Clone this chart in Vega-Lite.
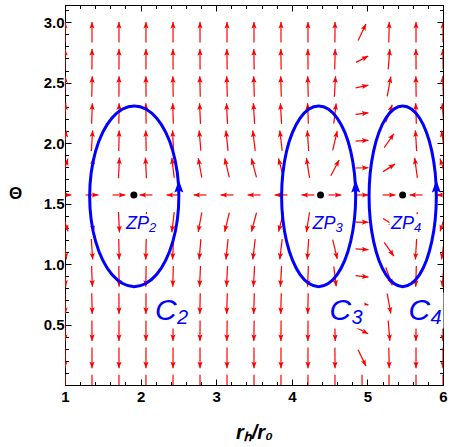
{
  "$schema": "https://vega.github.io/schema/vega-lite/v6.json",
  "width": 378,
  "height": 380,
  "autosize": {"type": "none"},
  "padding": {"left": 65, "top": 5, "right": 7, "bottom": 62},
  "background": "white",
  "config": {
    "view": {"stroke": "black", "strokeWidth": 1},
    "axis": {"grid": false, "domainColor": "black", "tickColor": "black", "labelColor": "black", "titleColor": "black", "tickWidth": 1, "domainWidth": 1}
  },
  "datasets": {
    "arrows": [
      {"x0":1,"y0":0.085,"x1":1,"y1":-0.085,"a":180},
      {"x0":1,"y0":0.309,"x1":1,"y1":0.139,"a":180},
      {"x0":0.998,"y0":0.534,"x1":1.002,"y1":0.364,"a":179.1},
      {"x0":0.995,"y0":0.758,"x1":1.005,"y1":0.588,"a":177.9},
      {"x0":0.99,"y0":0.983,"x1":1.01,"y1":0.813,"a":175.8},
      {"x0":0.981,"y0":1.205,"x1":1.019,"y1":1.039,"a":172},
      {"x0":0.961,"y0":1.422,"x1":1.039,"y1":1.27,"a":162.3},
      {"x0":0.915,"y0":1.571,"x1":1.085,"y1":1.571,"a":90},
      {"x0":0.961,"y0":1.719,"x1":1.039,"y1":1.871,"a":17.7},
      {"x0":0.981,"y0":1.937,"x1":1.019,"y1":2.103,"a":8},
      {"x0":0.99,"y0":2.159,"x1":1.01,"y1":2.329,"a":4.2},
      {"x0":0.995,"y0":2.383,"x1":1.005,"y1":2.553,"a":2.1},
      {"x0":0.998,"y0":2.608,"x1":1.002,"y1":2.778,"a":0.9},
      {"x0":1,"y0":2.832,"x1":1,"y1":3.002,"a":0},

      {"x0":1.357,"y0":0.085,"x1":1.357,"y1":-0.085,"a":180},
      {"x0":1.357,"y0":0.309,"x1":1.357,"y1":0.139,"a":180},
      {"x0":1.356,"y0":0.534,"x1":1.358,"y1":0.364,"a":179.6},
      {"x0":1.354,"y0":0.758,"x1":1.36,"y1":0.588,"a":178.9},
      {"x0":1.352,"y0":0.983,"x1":1.362,"y1":0.813,"a":177.9},
      {"x0":1.348,"y0":1.207,"x1":1.366,"y1":1.037,"a":176},
      {"x0":1.336,"y0":1.428,"x1":1.378,"y1":1.264,"a":170.9},
      {"x0":1.272,"y0":1.571,"x1":1.442,"y1":1.571,"a":90},
      {"x0":1.336,"y0":1.713,"x1":1.378,"y1":1.877,"a":9.1},
      {"x0":1.348,"y0":1.935,"x1":1.366,"y1":2.105,"a":4},
      {"x0":1.352,"y0":2.159,"x1":1.362,"y1":2.329,"a":2.1},
      {"x0":1.354,"y0":2.383,"x1":1.36,"y1":2.553,"a":1.1},
      {"x0":1.356,"y0":2.608,"x1":1.358,"y1":2.778,"a":0.4},
      {"x0":1.357,"y0":2.832,"x1":1.357,"y1":3.002,"a":0},

      {"x0":1.714,"y0":0.085,"x1":1.714,"y1":-0.085,"a":180},
      {"x0":1.714,"y0":0.309,"x1":1.714,"y1":0.139,"a":180},
      {"x0":1.714,"y0":0.534,"x1":1.714,"y1":0.364,"a":180},
      {"x0":1.713,"y0":0.758,"x1":1.715,"y1":0.588,"a":179.6},
      {"x0":1.712,"y0":0.983,"x1":1.716,"y1":0.813,"a":179.3},
      {"x0":1.711,"y0":1.207,"x1":1.717,"y1":1.037,"a":178.7},
      {"x0":1.707,"y0":1.431,"x1":1.721,"y1":1.261,"a":177},
      {"x0":1.629,"y0":1.571,"x1":1.799,"y1":1.571,"a":90},
      {"x0":1.707,"y0":1.71,"x1":1.721,"y1":1.88,"a":3},
      {"x0":1.711,"y0":1.935,"x1":1.717,"y1":2.105,"a":1.3},
      {"x0":1.712,"y0":2.159,"x1":1.716,"y1":2.329,"a":0.7},
      {"x0":1.713,"y0":2.383,"x1":1.715,"y1":2.553,"a":0.4},
      {"x0":1.714,"y0":2.608,"x1":1.714,"y1":2.778,"a":0},
      {"x0":1.714,"y0":2.832,"x1":1.714,"y1":3.002,"a":0},

      {"x0":2.071,"y0":0.085,"x1":2.071,"y1":-0.085,"a":180},
      {"x0":2.071,"y0":0.309,"x1":2.071,"y1":0.139,"a":180},
      {"x0":2.071,"y0":0.534,"x1":2.071,"y1":0.364,"a":180},
      {"x0":2.072,"y0":0.758,"x1":2.07,"y1":0.588,"a":180.4},
      {"x0":2.073,"y0":0.983,"x1":2.069,"y1":0.813,"a":180.7},
      {"x0":2.074,"y0":1.207,"x1":2.068,"y1":1.037,"a":181.3},
      {"x0":2.078,"y0":1.431,"x1":2.064,"y1":1.261,"a":183},
      {"x0":2.156,"y0":1.571,"x1":1.986,"y1":1.571,"a":-90},
      {"x0":2.078,"y0":1.71,"x1":2.064,"y1":1.88,"a":-3},
      {"x0":2.074,"y0":1.935,"x1":2.068,"y1":2.105,"a":-1.3},
      {"x0":2.073,"y0":2.159,"x1":2.069,"y1":2.329,"a":-0.7},
      {"x0":2.072,"y0":2.383,"x1":2.07,"y1":2.553,"a":-0.4},
      {"x0":2.071,"y0":2.608,"x1":2.071,"y1":2.778,"a":0},
      {"x0":2.071,"y0":2.832,"x1":2.071,"y1":3.002,"a":0},

      {"x0":2.429,"y0":0.085,"x1":2.429,"y1":-0.085,"a":180},
      {"x0":2.429,"y0":0.309,"x1":2.429,"y1":0.139,"a":180},
      {"x0":2.43,"y0":0.534,"x1":2.428,"y1":0.364,"a":180.3},
      {"x0":2.431,"y0":0.758,"x1":2.427,"y1":0.588,"a":180.8},
      {"x0":2.433,"y0":0.983,"x1":2.425,"y1":0.813,"a":181.6},
      {"x0":2.436,"y0":1.207,"x1":2.422,"y1":1.037,"a":183},
      {"x0":2.445,"y0":1.429,"x1":2.413,"y1":1.263,"a":186.8},
      {"x0":2.514,"y0":1.571,"x1":2.344,"y1":1.571,"a":-90},
      {"x0":2.445,"y0":1.712,"x1":2.413,"y1":1.878,"a":-6.8},
      {"x0":2.436,"y0":1.935,"x1":2.422,"y1":2.105,"a":-3},
      {"x0":2.433,"y0":2.159,"x1":2.425,"y1":2.329,"a":-1.6},
      {"x0":2.431,"y0":2.383,"x1":2.427,"y1":2.553,"a":-0.8},
      {"x0":2.43,"y0":2.608,"x1":2.428,"y1":2.778,"a":-0.3},
      {"x0":2.429,"y0":2.832,"x1":2.429,"y1":3.002,"a":0},

      {"x0":2.786,"y0":0.085,"x1":2.786,"y1":-0.085,"a":180},
      {"x0":2.786,"y0":0.309,"x1":2.786,"y1":0.139,"a":180},
      {"x0":2.787,"y0":0.534,"x1":2.785,"y1":0.364,"a":180.5},
      {"x0":2.789,"y0":0.758,"x1":2.783,"y1":0.588,"a":181.2},
      {"x0":2.792,"y0":0.983,"x1":2.78,"y1":0.813,"a":182.5},
      {"x0":2.797,"y0":1.206,"x1":2.775,"y1":1.038,"a":184.7},
      {"x0":2.81,"y0":1.427,"x1":2.762,"y1":1.265,"a":190.6},
      {"x0":2.871,"y0":1.571,"x1":2.701,"y1":1.571,"a":-90},
      {"x0":2.81,"y0":1.714,"x1":2.762,"y1":1.876,"a":-10.6},
      {"x0":2.797,"y0":1.936,"x1":2.775,"y1":2.104,"a":-4.7},
      {"x0":2.792,"y0":2.159,"x1":2.78,"y1":2.329,"a":-2.5},
      {"x0":2.789,"y0":2.383,"x1":2.783,"y1":2.553,"a":-1.2},
      {"x0":2.787,"y0":2.608,"x1":2.785,"y1":2.778,"a":-0.5},
      {"x0":2.786,"y0":2.832,"x1":2.786,"y1":3.002,"a":0},

      {"x0":3.143,"y0":0.085,"x1":3.143,"y1":-0.085,"a":180},
      {"x0":3.143,"y0":0.309,"x1":3.143,"y1":0.139,"a":180},
      {"x0":3.145,"y0":0.534,"x1":3.141,"y1":0.364,"a":180.7},
      {"x0":3.147,"y0":0.758,"x1":3.139,"y1":0.588,"a":181.6},
      {"x0":3.15,"y0":0.983,"x1":3.136,"y1":0.813,"a":183.2},
      {"x0":3.157,"y0":1.206,"x1":3.129,"y1":1.038,"a":186},
      {"x0":3.174,"y0":1.425,"x1":3.112,"y1":1.267,"a":193.5},
      {"x0":3.228,"y0":1.571,"x1":3.058,"y1":1.571,"a":-90},
      {"x0":3.174,"y0":1.716,"x1":3.112,"y1":1.874,"a":-13.5},
      {"x0":3.157,"y0":1.936,"x1":3.129,"y1":2.104,"a":-6},
      {"x0":3.15,"y0":2.159,"x1":3.136,"y1":2.329,"a":-3.2},
      {"x0":3.147,"y0":2.383,"x1":3.139,"y1":2.553,"a":-1.6},
      {"x0":3.145,"y0":2.608,"x1":3.141,"y1":2.778,"a":-0.7},
      {"x0":3.143,"y0":2.832,"x1":3.143,"y1":3.002,"a":0},

      {"x0":3.5,"y0":0.085,"x1":3.5,"y1":-0.085,"a":180},
      {"x0":3.5,"y0":0.309,"x1":3.5,"y1":0.139,"a":180},
      {"x0":3.502,"y0":0.534,"x1":3.498,"y1":0.364,"a":180.8},
      {"x0":3.504,"y0":0.758,"x1":3.496,"y1":0.588,"a":181.8},
      {"x0":3.508,"y0":0.983,"x1":3.492,"y1":0.813,"a":183.5},
      {"x0":3.516,"y0":1.206,"x1":3.484,"y1":1.038,"a":186.7},
      {"x0":3.533,"y0":1.424,"x1":3.467,"y1":1.268,"a":194.9},
      {"x0":3.585,"y0":1.571,"x1":3.415,"y1":1.571,"a":-90},
      {"x0":3.533,"y0":1.717,"x1":3.467,"y1":1.873,"a":-14.9},
      {"x0":3.516,"y0":1.936,"x1":3.484,"y1":2.104,"a":-6.7},
      {"x0":3.508,"y0":2.159,"x1":3.492,"y1":2.329,"a":-3.5},
      {"x0":3.504,"y0":2.383,"x1":3.496,"y1":2.553,"a":-1.8},
      {"x0":3.502,"y0":2.608,"x1":3.498,"y1":2.778,"a":-0.8},
      {"x0":3.5,"y0":2.832,"x1":3.5,"y1":3.002,"a":0},

      {"x0":3.857,"y0":0.085,"x1":3.857,"y1":-0.085,"a":180},
      {"x0":3.857,"y0":0.309,"x1":3.857,"y1":0.139,"a":180},
      {"x0":3.859,"y0":0.534,"x1":3.855,"y1":0.364,"a":180.8},
      {"x0":3.861,"y0":0.758,"x1":3.853,"y1":0.588,"a":181.8},
      {"x0":3.865,"y0":0.983,"x1":3.849,"y1":0.813,"a":183.5},
      {"x0":3.873,"y0":1.206,"x1":3.841,"y1":1.038,"a":186.7},
      {"x0":3.89,"y0":1.424,"x1":3.824,"y1":1.268,"a":194.9},
      {"x0":3.942,"y0":1.571,"x1":3.772,"y1":1.571,"a":-90},
      {"x0":3.89,"y0":1.717,"x1":3.824,"y1":1.873,"a":-14.9},
      {"x0":3.873,"y0":1.936,"x1":3.841,"y1":2.104,"a":-6.7},
      {"x0":3.865,"y0":2.159,"x1":3.849,"y1":2.329,"a":-3.5},
      {"x0":3.861,"y0":2.383,"x1":3.853,"y1":2.553,"a":-1.8},
      {"x0":3.859,"y0":2.608,"x1":3.855,"y1":2.778,"a":-0.8},
      {"x0":3.857,"y0":2.832,"x1":3.857,"y1":3.002,"a":0},

      {"x0":4.214,"y0":0.085,"x1":4.214,"y1":-0.085,"a":180},
      {"x0":4.214,"y0":0.309,"x1":4.214,"y1":0.139,"a":180},
      {"x0":4.215,"y0":0.534,"x1":4.213,"y1":0.364,"a":180.4},
      {"x0":4.217,"y0":0.758,"x1":4.211,"y1":0.588,"a":181.1},
      {"x0":4.219,"y0":0.983,"x1":4.209,"y1":0.813,"a":182.1},
      {"x0":4.223,"y0":1.207,"x1":4.205,"y1":1.037,"a":184},
      {"x0":4.235,"y0":1.428,"x1":4.193,"y1":1.264,"a":189.1},
      {"x0":4.299,"y0":1.571,"x1":4.129,"y1":1.571,"a":-90},
      {"x0":4.235,"y0":1.713,"x1":4.193,"y1":1.877,"a":-9.1},
      {"x0":4.223,"y0":1.935,"x1":4.205,"y1":2.105,"a":-4},
      {"x0":4.219,"y0":2.159,"x1":4.209,"y1":2.329,"a":-2.1},
      {"x0":4.217,"y0":2.383,"x1":4.211,"y1":2.553,"a":-1.1},
      {"x0":4.215,"y0":2.608,"x1":4.213,"y1":2.778,"a":-0.4},
      {"x0":4.214,"y0":2.832,"x1":4.214,"y1":3.002,"a":0},

      {"x0":4.571,"y0":0.085,"x1":4.571,"y1":-0.085,"a":180},
      {"x0":4.57,"y0":0.309,"x1":4.572,"y1":0.139,"a":179.6},
      {"x0":4.567,"y0":0.534,"x1":4.575,"y1":0.364,"a":178.5},
      {"x0":4.563,"y0":0.758,"x1":4.579,"y1":0.588,"a":176.4},
      {"x0":4.555,"y0":0.981,"x1":4.587,"y1":0.815,"a":173},
      {"x0":4.541,"y0":1.202,"x1":4.601,"y1":1.042,"a":166.9},
      {"x0":4.516,"y0":1.411,"x1":4.626,"y1":1.281,"a":151.9},
      {"x0":4.486,"y0":1.571,"x1":4.656,"y1":1.571,"a":90},
      {"x0":4.516,"y0":1.73,"x1":4.626,"y1":1.86,"a":28.1},
      {"x0":4.541,"y0":1.94,"x1":4.601,"y1":2.1,"a":13.1},
      {"x0":4.555,"y0":2.161,"x1":4.587,"y1":2.327,"a":7},
      {"x0":4.563,"y0":2.383,"x1":4.579,"y1":2.553,"a":3.6},
      {"x0":4.567,"y0":2.608,"x1":4.575,"y1":2.778,"a":1.5},
      {"x0":4.57,"y0":2.832,"x1":4.572,"y1":3.002,"a":0.4},

      {"x0":4.929,"y0":0.085,"x1":4.929,"y1":-0.085,"a":180},
      {"x0":4.877,"y0":0.292,"x1":4.981,"y1":0.156,"a":154.6},
      {"x0":4.848,"y0":0.475,"x1":5.01,"y1":0.423,"a":117.1},
      {"x0":4.845,"y0":0.684,"x1":5.013,"y1":0.662,"a":102.1},
      {"x0":4.844,"y0":0.904,"x1":5.014,"y1":0.892,"a":96.2},
      {"x0":4.844,"y0":1.125,"x1":5.014,"y1":1.119,"a":93.3},
      {"x0":4.844,"y0":1.347,"x1":5.014,"y1":1.345,"a":91.4},
      {"x0":4.844,"y0":1.571,"x1":5.014,"y1":1.571,"a":90},
      {"x0":4.844,"y0":1.794,"x1":5.014,"y1":1.796,"a":88.6},
      {"x0":4.844,"y0":2.017,"x1":5.014,"y1":2.023,"a":86.7},
      {"x0":4.844,"y0":2.238,"x1":5.014,"y1":2.25,"a":83.8},
      {"x0":4.845,"y0":2.457,"x1":5.013,"y1":2.479,"a":77.9},
      {"x0":4.848,"y0":2.667,"x1":5.01,"y1":2.719,"a":62.9},
      {"x0":4.877,"y0":2.849,"x1":4.981,"y1":2.985,"a":25.4},

      {"x0":5.286,"y0":0.085,"x1":5.286,"y1":-0.085,"a":180},
      {"x0":5.283,"y0":0.309,"x1":5.289,"y1":0.139,"a":178.9},
      {"x0":5.275,"y0":0.533,"x1":5.297,"y1":0.365,"a":175.5},
      {"x0":5.262,"y0":0.755,"x1":5.31,"y1":0.591,"a":169.4},
      {"x0":5.243,"y0":0.971,"x1":5.329,"y1":0.825,"a":159.8},
      {"x0":5.222,"y0":1.179,"x1":5.35,"y1":1.065,"a":145},
      {"x0":5.207,"y0":1.377,"x1":5.365,"y1":1.315,"a":122},
      {"x0":5.201,"y0":1.571,"x1":5.371,"y1":1.571,"a":90},
      {"x0":5.207,"y0":1.764,"x1":5.365,"y1":1.826,"a":58},
      {"x0":5.222,"y0":1.963,"x1":5.35,"y1":2.077,"a":35},
      {"x0":5.243,"y0":2.171,"x1":5.329,"y1":2.317,"a":20.2},
      {"x0":5.262,"y0":2.386,"x1":5.31,"y1":2.55,"a":10.6},
      {"x0":5.275,"y0":2.609,"x1":5.297,"y1":2.777,"a":4.5},
      {"x0":5.283,"y0":2.832,"x1":5.289,"y1":3.002,"a":1.1},

      {"x0":5.643,"y0":0.085,"x1":5.643,"y1":-0.085,"a":180},
      {"x0":5.643,"y0":0.309,"x1":5.643,"y1":0.139,"a":180},
      {"x0":5.644,"y0":0.534,"x1":5.642,"y1":0.364,"a":180.4},
      {"x0":5.645,"y0":0.758,"x1":5.641,"y1":0.588,"a":180.9},
      {"x0":5.647,"y0":0.983,"x1":5.639,"y1":0.813,"a":181.8},
      {"x0":5.651,"y0":1.207,"x1":5.635,"y1":1.037,"a":183.3},
      {"x0":5.661,"y0":1.429,"x1":5.625,"y1":1.263,"a":187.6},
      {"x0":5.728,"y0":1.571,"x1":5.558,"y1":1.571,"a":-90},
      {"x0":5.661,"y0":1.712,"x1":5.625,"y1":1.878,"a":-7.6},
      {"x0":5.651,"y0":1.935,"x1":5.635,"y1":2.105,"a":-3.3},
      {"x0":5.647,"y0":2.159,"x1":5.639,"y1":2.329,"a":-1.8},
      {"x0":5.645,"y0":2.383,"x1":5.641,"y1":2.553,"a":-0.9},
      {"x0":5.644,"y0":2.608,"x1":5.642,"y1":2.778,"a":-0.4},
      {"x0":5.643,"y0":2.832,"x1":5.643,"y1":3.002,"a":0},

      {"x0":6,"y0":0.085,"x1":6,"y1":-0.085,"a":180},
      {"x0":6,"y0":0.309,"x1":6,"y1":0.139,"a":180},
      {"x0":6.002,"y0":0.534,"x1":5.998,"y1":0.364,"a":180.9},
      {"x0":6.005,"y0":0.758,"x1":5.995,"y1":0.588,"a":182.1},
      {"x0":6.01,"y0":0.983,"x1":5.99,"y1":0.813,"a":184.2},
      {"x0":6.019,"y0":1.205,"x1":5.981,"y1":1.039,"a":188},
      {"x0":6.039,"y0":1.422,"x1":5.961,"y1":1.27,"a":197.7},
      {"x0":6.085,"y0":1.571,"x1":5.915,"y1":1.571,"a":-90},
      {"x0":6.039,"y0":1.719,"x1":5.961,"y1":1.871,"a":-17.7},
      {"x0":6.019,"y0":1.937,"x1":5.981,"y1":2.103,"a":-8},
      {"x0":6.01,"y0":2.159,"x1":5.99,"y1":2.329,"a":-4.2},
      {"x0":6.005,"y0":2.383,"x1":5.995,"y1":2.553,"a":-2.1},
      {"x0":6.002,"y0":2.608,"x1":5.998,"y1":2.778,"a":-0.9},
      {"x0":6,"y0":2.832,"x1":6,"y1":3.002,"a":0}
    ],
    "ellipses": [
      {"c":"C2","t":0,"x":2.506,"y":1.56},{"c":"C2","t":1,"x":2.486,"y":1.753},{"c":"C2","t":2,"x":2.427,"y":1.934},{"c":"C2","t":3,"x":2.333,"y":2.088},
      {"c":"C2","t":4,"x":2.211,"y":2.207},{"c":"C2","t":5,"x":2.069,"y":2.282},{"c":"C2","t":6,"x":1.916,"y":2.307},{"c":"C2","t":7,"x":1.763,"y":2.282},
      {"c":"C2","t":8,"x":1.621,"y":2.207},{"c":"C2","t":9,"x":1.499,"y":2.088},{"c":"C2","t":10,"x":1.405,"y":1.934},{"c":"C2","t":11,"x":1.346,"y":1.753},
      {"c":"C2","t":12,"x":1.326,"y":1.56},{"c":"C2","t":13,"x":1.346,"y":1.367},{"c":"C2","t":14,"x":1.405,"y":1.187},{"c":"C2","t":15,"x":1.499,"y":1.032},
      {"c":"C2","t":16,"x":1.621,"y":0.913},{"c":"C2","t":17,"x":1.763,"y":0.839},{"c":"C2","t":18,"x":1.916,"y":0.813},{"c":"C2","t":19,"x":2.069,"y":0.839},
      {"c":"C2","t":20,"x":2.211,"y":0.913},{"c":"C2","t":21,"x":2.333,"y":1.032},{"c":"C2","t":22,"x":2.427,"y":1.187},{"c":"C2","t":23,"x":2.486,"y":1.367},

      {"c":"C3","t":0,"x":4.845,"y":1.56},{"c":"C3","t":1,"x":4.828,"y":1.753},{"c":"C3","t":2,"x":4.779,"y":1.934},{"c":"C3","t":3,"x":4.702,"y":2.088},
      {"c":"C3","t":4,"x":4.6,"y":2.207},{"c":"C3","t":5,"x":4.482,"y":2.282},{"c":"C3","t":6,"x":4.355,"y":2.307},{"c":"C3","t":7,"x":4.228,"y":2.282},
      {"c":"C3","t":8,"x":4.11,"y":2.207},{"c":"C3","t":9,"x":4.009,"y":2.088},{"c":"C3","t":10,"x":3.931,"y":1.934},{"c":"C3","t":11,"x":3.882,"y":1.753},
      {"c":"C3","t":12,"x":3.865,"y":1.56},{"c":"C3","t":13,"x":3.882,"y":1.367},{"c":"C3","t":14,"x":3.931,"y":1.187},{"c":"C3","t":15,"x":4.009,"y":1.032},
      {"c":"C3","t":16,"x":4.11,"y":0.913},{"c":"C3","t":17,"x":4.228,"y":0.839},{"c":"C3","t":18,"x":4.355,"y":0.813},{"c":"C3","t":19,"x":4.482,"y":0.839},
      {"c":"C3","t":20,"x":4.6,"y":0.913},{"c":"C3","t":21,"x":4.702,"y":1.032},{"c":"C3","t":22,"x":4.779,"y":1.187},{"c":"C3","t":23,"x":4.828,"y":1.367},

      {"c":"C4","t":0,"x":5.912,"y":1.56},{"c":"C4","t":1,"x":5.897,"y":1.753},{"c":"C4","t":2,"x":5.852,"y":1.934},{"c":"C4","t":3,"x":5.782,"y":2.088},
      {"c":"C4","t":4,"x":5.69,"y":2.207},{"c":"C4","t":5,"x":5.582,"y":2.282},{"c":"C4","t":6,"x":5.467,"y":2.307},{"c":"C4","t":7,"x":5.352,"y":2.282},
      {"c":"C4","t":8,"x":5.245,"y":2.207},{"c":"C4","t":9,"x":5.152,"y":2.088},{"c":"C4","t":10,"x":5.082,"y":1.934},{"c":"C4","t":11,"x":5.037,"y":1.753},
      {"c":"C4","t":12,"x":5.022,"y":1.56},{"c":"C4","t":13,"x":5.037,"y":1.367},{"c":"C4","t":14,"x":5.082,"y":1.187},{"c":"C4","t":15,"x":5.152,"y":1.032},
      {"c":"C4","t":16,"x":5.245,"y":0.913},{"c":"C4","t":17,"x":5.352,"y":0.839},{"c":"C4","t":18,"x":5.467,"y":0.813},{"c":"C4","t":19,"x":5.582,"y":0.839},
      {"c":"C4","t":20,"x":5.69,"y":0.913},{"c":"C4","t":21,"x":5.782,"y":1.032},{"c":"C4","t":22,"x":5.852,"y":1.187},{"c":"C4","t":23,"x":5.897,"y":1.367}
    ],
    "ellheads": [
      {"c":"C2","x":2.506,"y":1.695},
      {"c":"C3","x":4.845,"y":1.695},
      {"c":"C4","x":5.912,"y":1.695}
    ],
    "zeros": [
      {"zp":"ZP2","x":1.911,"y":1.5708},
      {"zp":"ZP3","x":4.38,"y":1.5708},
      {"zp":"ZP4","x":5.466,"y":1.5708}
    ],
    "clab": [
      {"x":2.19,"y":0.537,"s":"2"},
      {"x":4.499,"y":0.537,"s":"3"},
      {"x":5.544,"y":0.537,"s":"4"}
    ],
    "zlab": [
      {"x":1.807,"y":1.287,"s":"2"},
      {"x":4.274,"y":1.287,"s":"3"},
      {"x":5.312,"y":1.287,"s":"4"}
    ]
  },
  "layer": [
    {
      "data": {"name": "arrows"},
      "mark": {"type": "rule", "color": "#ff0000", "strokeWidth": 1.2, "clip": true},
      "encoding": {
        "x": {
          "field": "x0", "type": "quantitative",
          "scale": {"domain": [1, 6], "nice": false, "zero": false},
          "axis": {
            "orient": "bottom",
            "values": [1,1.2,1.4,1.6,1.8,2,2.2,2.4,2.6,2.8,3,3.2,3.4,3.6,3.8,4,4.2,4.4,4.6,4.8,5,5.2,5.4,5.6,5.8,6],
            "labelExpr": "abs(datum.value - round(datum.value)) < 0.001 ? format(datum.value, 'd') : ''",
            "tickSize": {"condition": {"test": "abs(datum.value - round(datum.value)) < 0.001", "value": -6}, "value": -3.5},
            "labelPadding": 10,
            "labelFont": "Liberation Sans", "labelFontSize": 15, "labelFontWeight": "bold",
            "labelFlush": false, "labelOverlap": false, "labelBound": false,
            "title": "rₕ/r₀",
            "titleFont": "Liberation Sans", "titleFontSize": 20, "titleFontWeight": "bold", "titleFontStyle": "italic",
            "titleX": 189, "titleY": 53, "titleAlign": "center", "titleBaseline": "alphabetic"
          }
        },
        "y": {
          "field": "y0", "type": "quantitative",
          "scale": {"domain": [0, 3.14159], "nice": false, "zero": false},
          "axis": {
            "orient": "left",
            "values": [0.1,0.2,0.3,0.4,0.5,0.6,0.7,0.8,0.9,1,1.1,1.2,1.3,1.4,1.5,1.6,1.7,1.8,1.9,2,2.1,2.2,2.3,2.4,2.5,2.6,2.7,2.8,2.9,3,3.1],
            "labelExpr": "abs(datum.value*2 - round(datum.value*2)) < 0.001 ? format(datum.value, '.1f') : ''",
            "tickSize": {"condition": {"test": "abs(datum.value*2 - round(datum.value*2)) < 0.001", "value": -6}, "value": -3.5},
            "labelPadding": 7,
            "labelFont": "Liberation Sans", "labelFontSize": 15, "labelFontWeight": "bold",
            "labelFlush": false, "labelOverlap": false, "labelBound": false,
            "title": "Θ",
            "titleFont": "Liberation Sans", "titleFontSize": 17, "titleFontWeight": "bold",
            "titleAngle": 0, "titleX": -50, "titleY": 188, "titleAlign": "center", "titleBaseline": "middle"
          }
        },
        "x2": {"field": "x1"},
        "y2": {"field": "y1"}
      }
    },
    {
      "data": {"name": "arrows"},
      "mark": {"type": "point", "shape": "M0,0 L0.4,1 L0,0.8 L-0.4,1 Z", "size": 169, "filled": true, "color": "#ff0000", "opacity": 1, "strokeWidth": 0, "clip": true},
      "encoding": {
        "x": {
          "field": "x1", "type": "quantitative",
          "scale": {"domain": [1, 6], "nice": false, "zero": false},
          "axis": {
            "orient": "top",
            "values": [1,1.2,1.4,1.6,1.8,2,2.2,2.4,2.6,2.8,3,3.2,3.4,3.6,3.8,4,4.2,4.4,4.6,4.8,5,5.2,5.4,5.6,5.8,6],
            "labels": false, "title": null,
            "tickSize": {"condition": {"test": "abs(datum.value - round(datum.value)) < 0.001", "value": -6}, "value": -3.5}
          }
        },
        "y": {
          "field": "y1", "type": "quantitative",
          "scale": {"domain": [0, 3.14159], "nice": false, "zero": false},
          "axis": {
            "orient": "right",
            "values": [0.1,0.2,0.3,0.4,0.5,0.6,0.7,0.8,0.9,1,1.1,1.2,1.3,1.4,1.5,1.6,1.7,1.8,1.9,2,2.1,2.2,2.3,2.4,2.5,2.6,2.7,2.8,2.9,3,3.1],
            "labels": false, "title": null,
            "tickSize": {"condition": {"test": "abs(datum.value*2 - round(datum.value*2)) < 0.001", "value": -6}, "value": -3.5}
          }
        },
        "angle": {"field": "a", "type": "quantitative", "scale": null}
      }
    },
    {
      "data": {"name": "ellipses"},
      "mark": {"type": "line", "interpolate": "cardinal-closed", "color": "#0000ff", "strokeWidth": 3, "clip": true},
      "encoding": {
        "x": {"field": "x", "type": "quantitative", "scale": {"domain": [1, 6], "nice": false, "zero": false}, "axis": null},
        "y": {"field": "y", "type": "quantitative", "scale": {"domain": [0, 3.14159], "nice": false, "zero": false}, "axis": null},
        "detail": {"field": "c", "type": "nominal"},
        "order": {"field": "t", "type": "quantitative"}
      }
    },
    {
      "data": {"name": "ellheads"},
      "mark": {"type": "point", "shape": "M0,0 L0.36,1 L0,0.85 L-0.36,1 Z", "size": 625, "filled": true, "color": "#0000ff", "opacity": 1, "strokeWidth": 0},
      "encoding": {
        "x": {"field": "x", "type": "quantitative", "axis": null},
        "y": {"field": "y", "type": "quantitative", "axis": null}
      }
    },
    {
      "data": {"name": "zeros"},
      "mark": {"type": "point", "shape": "circle", "size": 49, "filled": true, "color": "black", "opacity": 1},
      "encoding": {
        "x": {"field": "x", "type": "quantitative", "axis": null},
        "y": {"field": "y", "type": "quantitative", "axis": null}
      }
    },
    {
      "data": {"name": "clab"},
      "mark": {"type": "point", "shape": "square", "size": 1296, "filled": true, "color": "white", "opacity": 1, "strokeWidth": 0, "xOffset": 17, "yOffset": -9.5},
      "encoding": {
        "x": {"field": "x", "type": "quantitative", "axis": null},
        "y": {"field": "y", "type": "quantitative", "axis": null}
      }
    },
    {
      "data": {"name": "zlab"},
      "mark": {"type": "point", "shape": "M-1,-0.57 L1,-0.57 L1,0.57 L-1,0.57 Z", "size": 1369, "filled": true, "color": "white", "opacity": 1, "strokeWidth": 0, "xOffset": 17, "yOffset": -4.5},
      "encoding": {
        "x": {"field": "x", "type": "quantitative", "axis": null},
        "y": {"field": "y", "type": "quantitative", "axis": null}
      }
    },
    {
      "data": {"name": "clab"},
      "mark": {"type": "text", "text": "C", "align": "left", "baseline": "alphabetic", "font": "Liberation Sans", "fontSize": 30, "fontStyle": "italic", "color": "#0000ff"},
      "encoding": {
        "x": {"field": "x", "type": "quantitative", "axis": null},
        "y": {"field": "y", "type": "quantitative", "axis": null}
      }
    },
    {
      "data": {"name": "clab"},
      "mark": {"type": "text", "align": "left", "baseline": "alphabetic", "font": "Liberation Sans", "fontSize": 20, "fontStyle": "italic", "color": "#0000ff", "dx": 22, "dy": 4},
      "encoding": {
        "x": {"field": "x", "type": "quantitative", "axis": null},
        "y": {"field": "y", "type": "quantitative", "axis": null},
        "text": {"field": "s", "type": "nominal"}
      }
    },
    {
      "data": {"name": "zlab"},
      "mark": {"type": "text", "text": "ZP", "align": "left", "baseline": "alphabetic", "font": "Liberation Sans", "fontSize": 18, "fontStyle": "italic", "color": "#0000ff"},
      "encoding": {
        "x": {"field": "x", "type": "quantitative", "axis": null},
        "y": {"field": "y", "type": "quantitative", "axis": null}
      }
    },
    {
      "data": {"name": "zlab"},
      "mark": {"type": "text", "align": "left", "baseline": "alphabetic", "font": "Liberation Sans", "fontSize": 13, "fontStyle": "italic", "color": "#0000ff", "dx": 23, "dy": 3},
      "encoding": {
        "x": {"field": "x", "type": "quantitative", "axis": null},
        "y": {"field": "y", "type": "quantitative", "axis": null},
        "text": {"field": "s", "type": "nominal"}
      }
    }
  ],
  "resolve": {"axis": {"x": "independent", "y": "independent"}}
}
